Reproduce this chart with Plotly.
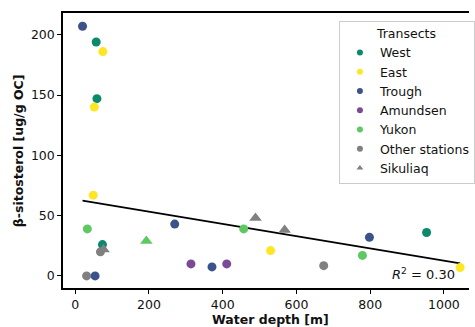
import plotly.graph_objects as go

# ---- data ----
west_depth = [57, 59, 74, 953]
west_sito = [194, 147, 26, 36]
east_depth = [75, 52, 49, 530, 1044]
east_sito = [186, 140, 67, 21, 7]
trough_depth = [20, 270, 371, 54, 798]
trough_sito = [207, 43, 7.5, 0, 32]
amundsen_depth = [314, 411]
amundsen_sito = [10, 10]
yukon_depth = [33, 457, 779]
yukon_sito = [39, 39, 17]
other_depth = [31, 68.5, 674]
other_sito = [0, 20, 8.5]
sik_depth = [77, 193, 489, 568]
sik_sito = [22, 29, 48, 38]
sik_transect = ["Other stations", "Yukon", "Other stations", "Other stations"]

fit_intercept = 63.4
fit_slope = -0.0507
r_squared = 0.30

x_ticks = [0, 200, 400, 600, 800, 1000]
y_ticks = [0, 50, 100, 150, 200]

colors = {
    "West": "#0a8a6a",
    "East": "#fde725",
    "Trough": "#3b528b",
    "Amundsen": "#7b4a97",
    "Yukon": "#5ec962",
    "Other stations": "#808080",
    "Sikuliaq": "#808080",
}

groups = [
    ("West", west_depth, west_sito),
    ("East", east_depth, east_sito),
    ("Trough", trough_depth, trough_sito),
    ("Amundsen", amundsen_depth, amundsen_sito),
    ("Yukon", yukon_depth, yukon_sito),
    ("Other stations", other_depth, other_sito),
]

FONT = "DejaVu Sans"
fig = go.Figure()

# regression line
all_x = west_depth + east_depth + trough_depth + amundsen_depth + yukon_depth + other_depth + sik_depth
xs = [min(all_x), max(all_x)]
fig.add_trace(go.Scatter(x=xs, y=[fit_intercept + fit_slope * v for v in xs], mode="lines",
                         line=dict(color="black", width=1.8), showlegend=False, hoverinfo="skip"))

for name, xd, yd in groups:
    fig.add_trace(go.Scatter(x=xd, y=yd, mode="markers", showlegend=False,
                             marker=dict(color=colors[name], size=9, line=dict(width=0))))

fig.add_trace(go.Scatter(x=sik_depth, y=sik_sito, mode="markers", showlegend=False,
                         marker=dict(color=[colors[t] for t in sik_transect], size=11,
                                     symbol="triangle-up", line=dict(width=0))))

# legend-only entries
for name, _, _ in groups:
    fig.add_trace(go.Scatter(x=[None], y=[None], mode="markers", name=name,
                             marker=dict(color=colors[name], size=6)))
fig.add_trace(go.Scatter(x=[None], y=[None], mode="markers", name="Sikuliaq",
                         marker=dict(color=colors["Sikuliaq"], size=6, symbol="triangle-up")))

fig.add_annotation(xref="paper", yref="paper", x=0.971, y=0.051, xanchor="right", yanchor="middle",
                   text=f"<i>R</i><sup>2</sup> = {r_squared:.2f}", showarrow=False,
                   font=dict(family=FONT, size=13, color="#111"))

fig.add_annotation(xref="paper", yref="paper", x=(274 - 63) / 412, y=-(319 - 288) / 275,
                   xanchor="center", yanchor="middle", text="<b>Water depth [m]</b>", showarrow=False,
                   font=dict(family=FONT, size=12.5, color="#111"))
fig.add_annotation(xref="paper", yref="paper", x=-(63 - 18) / 412, y=0.5, textangle=-90,
                   xanchor="center", yanchor="middle", text="<b>β-sitosterol [ug/g OC]</b>", showarrow=False,
                   font=dict(family=FONT, size=12.5, color="#111"))

fig.update_layout(
    width=475, height=327,
    margin=dict(l=63, r=0, t=13, b=39),
    plot_bgcolor="white", paper_bgcolor="white",
    font=dict(family=FONT, size=12.5, color="#111"),
    legend=dict(x=(343 - 63) / 412, y=(288 - 20.7) / 275, xanchor="left", yanchor="top",
                bgcolor="rgba(255,255,255,0.8)", bordercolor="#cccccc", borderwidth=1,
                title=dict(text="Transects", side="top center", font=dict(size=12.5)),
                font=dict(family=FONT, size=12.5), tracegroupgap=0),
    xaxis=dict(range=[-33, 1068], tickvals=x_ticks, showgrid=False, zeroline=False,
               showline=True, linecolor="black", linewidth=1.5, mirror=True,
               ticks="outside", ticklen=4, tickwidth=1.2, tickcolor="black"),
    yaxis=dict(range=[-10, 218], tickvals=y_ticks, showgrid=False, zeroline=False,
               showline=True, linecolor="black", linewidth=1.5,
               ticks="outside", ticklen=4, tickwidth=1.2, tickcolor="black"),
)

fig.write_html("out.html")
